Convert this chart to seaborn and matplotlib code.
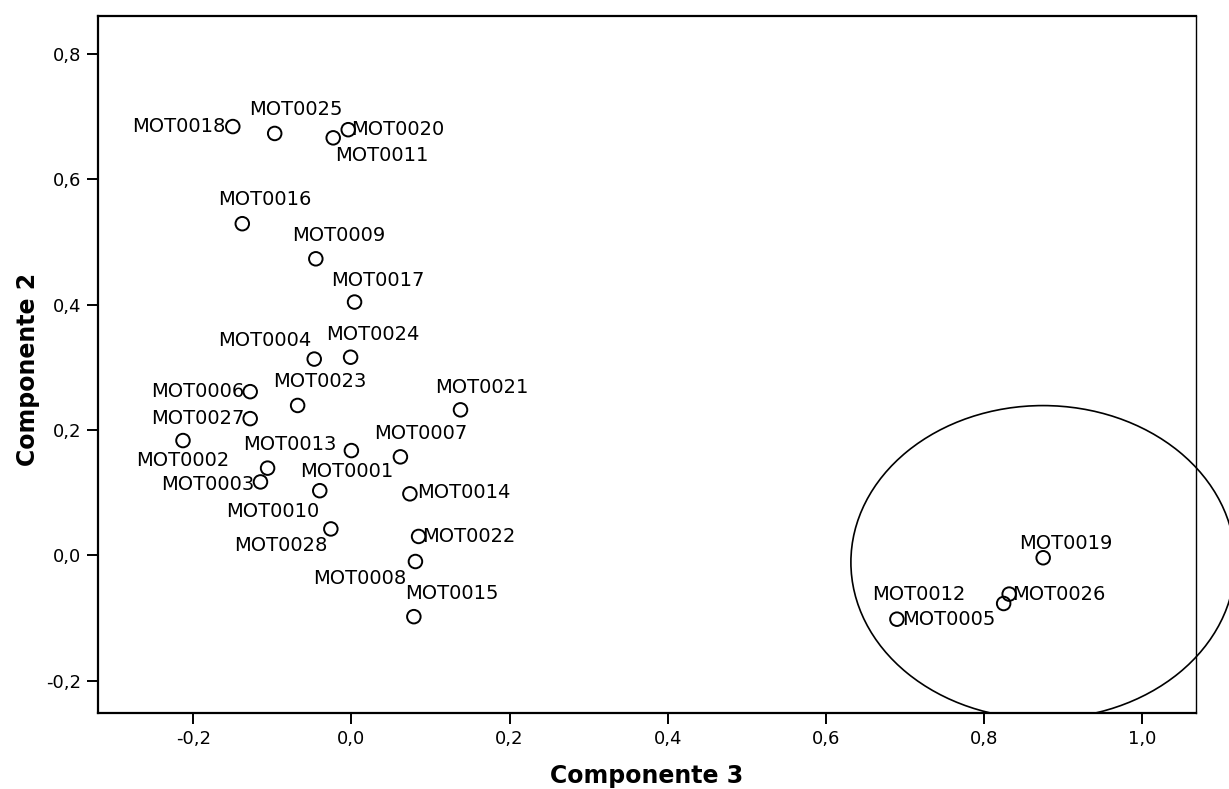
import matplotlib
matplotlib.use("Agg")
import matplotlib.pyplot as plt
from matplotlib.patches import Ellipse
from matplotlib.transforms import Bbox, TransformedBbox
import numpy as np
import pandas as pd
import seaborn as sns

# ---------------- data ----------------
names = ["MOT0001", "MOT0002", "MOT0003", "MOT0004", "MOT0005", "MOT0006", "MOT0007",
         "MOT0008", "MOT0009", "MOT0010", "MOT0011", "MOT0012", "MOT0013", "MOT0014",
         "MOT0015", "MOT0016", "MOT0017", "MOT0018", "MOT0019", "MOT0020", "MOT0021",
         "MOT0022", "MOT0023", "MOT0024", "MOT0025", "MOT0026", "MOT0027", "MOT0028"]
componente3 = [0.000, -0.213, -0.115, -0.047, 0.690, -0.128, 0.062,
               0.081, -0.045, -0.040, -0.023, 0.825, -0.106, 0.074,
               0.079, -0.138, 0.004, -0.150, 0.875, -0.004, 0.138,
               0.085, -0.068, -0.001, -0.097, 0.832, -0.128, -0.026]
componente2 = [0.167, 0.183, 0.117, 0.313, -0.102, 0.261, 0.157,
               -0.010, 0.473, 0.103, 0.666, -0.077, 0.139, 0.098,
               -0.098, 0.529, 0.404, 0.684, -0.004, 0.679, 0.232,
               0.030, 0.239, 0.316, 0.673, -0.062, 0.218, 0.042]

x_ticks = [-0.2, 0.0, 0.2, 0.4, 0.6, 0.8, 1.0]
x_tick_labels = ["-0,2", "0,0", "0,2", "0,4", "0,6", "0,8", "1,0"]
y_ticks = [-0.2, 0.0, 0.2, 0.4, 0.6, 0.8]
y_tick_labels = ["-0,2", "0,0", "0,2", "0,4", "0,6", "0,8"]
x_title = "Componente 3"
y_title = "Componente 2"

# ---------------- label layout (pixel offsets from marker, screen y down) ----------------
label_layout = {
    "MOT0001": ("center", -5, 21), "MOT0002": ("center", 0, 20), "MOT0003": ("right", -6, 3),
    "MOT0004": ("center", -49, -19), "MOT0005": ("left", 5, 0), "MOT0006": ("right", -6, 0),
    "MOT0007": ("center", 20, -23), "MOT0008": ("center", -56, 17), "MOT0009": ("center", 23, -23),
    "MOT0010": ("center", -47, 21), "MOT0011": ("left", 2, 18), "MOT0012": ("right", -38, -9),
    "MOT0013": ("center", 22, -24), "MOT0014": ("left", 7, -1), "MOT0015": ("center", 38, -23),
    "MOT0016": ("center", 23, -24), "MOT0017": ("center", 23, -22), "MOT0018": ("right", -7, 0),
    "MOT0019": ("center", 23, -14), "MOT0020": ("left", 3, 0), "MOT0021": ("center", 21, -22),
    "MOT0022": ("left", 4, 0), "MOT0023": ("center", 22, -24), "MOT0024": ("center", 22, -23),
    "MOT0025": ("center", 21, -24), "MOT0026": ("left", 3, 0), "MOT0027": ("right", -6, 0),
    "MOT0028": ("center", -50, 17),
}

# highlight ellipse around the right-hand cluster (annotation)
ELLIPSE_CENTER = (0.8748, -0.0112)
ELLIPSE_W, ELLIPSE_H = 0.486, 0.500

df = pd.DataFrame({"name": names, "c3": componente3, "c2": componente2})

# ---------------- figure ----------------
sns.set_theme(style="ticks")
plt.rcParams["font.family"] = ["DejaVu Sans"]

W, H, DPI = 1229, 789, 100
fig = plt.figure(figsize=(W / DPI, H / DPI), dpi=DPI)
ax_bottom = (H - 713) / H
ax = fig.add_axes([98 / W, ax_bottom, (1196 - 98) / W, (713 - 15.5) / H])

sns.scatterplot(data=df, x="c3", y="c2", ax=ax, marker="o", s=95,
                facecolors="none", edgecolor="black", linewidth=1.4, legend=False)

PX = 72.0 / DPI
for _, row in df.iterrows():
    ha, dx, dy = label_layout[row["name"]]
    ax.annotate(row["name"], (row["c3"], row["c2"]), xytext=(dx * PX, -dy * PX),
                textcoords="offset points", ha=ha, va="center",
                fontsize=14, color="black")

ell = Ellipse(ELLIPSE_CENTER, ELLIPSE_W, ELLIPSE_H, transform=ax.transData,
              fill=False, edgecolor="black", linewidth=1.2)
ax.add_patch(ell)
ell.set_clip_on(True)
ell.set_clip_path(None)
ell.set_clip_box(TransformedBbox(Bbox([[0.0, ax_bottom], [1.0, 1.0]]), fig.transFigure))

ax.set_xlim(-0.3205, 1.0683)
ax.set_ylim(-0.2517, 0.8612)
ax.set_xticks(x_ticks)
ax.set_xticklabels(x_tick_labels)
ax.set_yticks(y_ticks)
ax.set_yticklabels(y_tick_labels)
ax.tick_params(axis="both", direction="out", length=8, width=1.4, colors="black",
               labelsize=13, pad=4)

for side in ["left", "bottom", "top"]:
    ax.spines[side].set_visible(True)
    ax.spines[side].set_linewidth(1.6)
    ax.spines[side].set_color("black")
ax.spines["right"].set_visible(True)
ax.spines["right"].set_linewidth(1.0)
ax.spines["right"].set_color("black")

ax.set_xlabel(x_title, fontsize=17, fontweight="bold", color="black")
ax.set_ylabel(y_title, fontsize=17, fontweight="bold", color="black")
ax.xaxis.set_label_coords(0.5, -(764 - 713) / (713 - 15.5))
ax.yaxis.set_label_coords(-(98 - 40) / (1196 - 98), 0.493)
ax.xaxis.label.set_va("top")

fig.savefig("out.png", dpi=DPI, facecolor="white")
